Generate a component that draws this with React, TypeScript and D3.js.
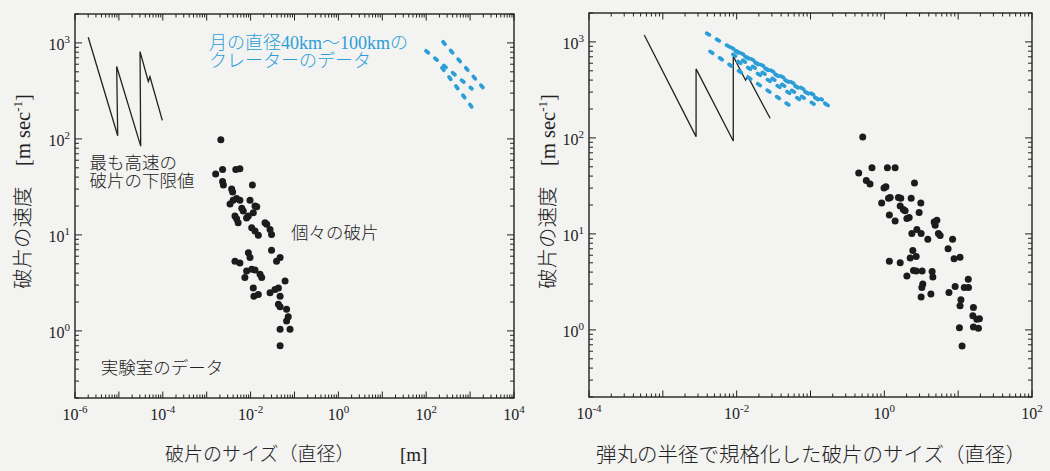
import React from "react";
import * as d3 from "d3";

// axes
const yDomain: [number, number] = [0.2, 2000];
const leftXDomain: [number, number] = [1e-6, 1e4];
const rightXDomain: [number, number] = [1e-4, 1e2];
const leftXTickExps = [-6, -4, -2, 0, 2, 4];
const rightXTickExps = [-4, -2, 0, 2];
const yTickExps = [0, 1, 2, 3];

// individual fragments, [size, velocity]
const leftFragments = [
  [2.1e-3, 98], [1.6e-3, 43], [2.3e-3, 48], [4.6e-3, 48], [5.7e-3, 49], [2.3e-3, 36],
  [2.4e-3, 33], [3.7e-3, 30], [3.9e-3, 28], [1.1e-2, 33], [4.0e-3, 23], [4.8e-3, 24],
  [5.7e-3, 23], [3.4e-3, 21], [9.7e-3, 23], [6.3e-3, 19], [6.8e-3, 17.7], [1.26e-2, 20],
  [1.38e-2, 19.6], [4.4e-3, 15.7], [4.8e-3, 14.7], [8.1e-3, 15], [8.9e-3, 15.7], [1.15e-2, 17],
  [5.2e-3, 13.4], [1.06e-2, 11.9], [1.26e-2, 11], [1.5e-2, 9.9], [2.13e-2, 13.4], [2.33e-2, 12.9],
  [2.77e-2, 11.4], [3.0e-2, 10.1], [8.9e-3, 6.5], [9.7e-3, 5.8], [4.4e-3, 5.3], [5.7e-3, 5.1],
  [3.0e-2, 6.9], [4.7e-2, 5.8], [3.9e-2, 5.3], [8.1e-3, 4.2], [1.06e-2, 4.4], [1.26e-2, 4.3],
  [7.4e-3, 3.6], [1.64e-2, 3.9], [1.79e-2, 3.6], [6.1e-2, 3.3], [1.15e-2, 2.8], [1.19e-2, 2.3],
  [1.5e-2, 2.4], [2.77e-2, 2.5], [3.6e-2, 2.7], [4.3e-2, 2.8], [4.7e-2, 2.3], [4.3e-2, 1.9],
  [4.7e-2, 1.78], [6.6e-2, 1.68], [7.2e-2, 1.4], [6.6e-2, 1.27], [7.9e-2, 1.04], [4.7e-2, 1.04],
  [4.7e-2, 0.7],
];

const rightFragments = [
  [0.51, 102], [0.45, 43], [0.68, 49], [0.57, 36], [0.64, 33], [1.1, 49], [1.4, 49],
  [0.99, 30], [1.05, 31], [2.56, 34], [0.92, 21], [1.14, 23.5], [1.2, 24], [1.55, 24],
  [1.67, 23.5], [2.31, 23.5], [3.12, 21], [1.17, 15.7], [1.4, 13.6], [1.64, 19.5], [1.81, 18],
  [1.91, 17.4], [2.02, 14.5], [2.17, 14.8], [2.96, 16.7], [2.36, 10.1], [2.76, 11.1], [3.15, 10.1],
  [3.88, 8.8], [4.73, 13.3], [5.15, 13.9], [4.88, 12.3], [5.4, 10.1], [5.7, 9.6], [8.4, 8.8],
  [2.43, 6.7], [2.24, 5.6], [2.7, 5.8], [1.17, 5.2], [1.64, 5.0], [2.48, 4.15], [2.7, 4.1],
  [3.25, 4.1], [2.02, 3.65], [4.44, 4.05], [4.54, 3.55], [7.3, 7.0], [8.8, 5.5], [10.6, 5.7],
  [3.32, 3.0], [3.22, 2.77], [3.15, 2.2], [4.27, 2.36], [7.5, 2.45], [9.1, 2.84], [12.1, 2.77],
  [13.8, 2.77], [13.7, 3.37], [10.9, 2.06], [10.6, 1.78], [10.4, 1.05], [11.3, 0.68], [16.1, 1.71],
  [15.8, 1.4], [17.9, 1.29], [19.4, 1.31], [16.1, 1.07], [18.8, 1.04],
];

// lower limit of the fastest fragments
const leftLimitLine = [
  [2.0e-6, 1146], [9.4e-6, 108], [8.9e-6, 568], [3.14e-5, 84], [3.03e-5, 812],
  [4.68e-5, 396], [5.1e-5, 444], [9.75e-5, 156],
];
const rightLimitLine = [
  [5.6e-4, 1178], [2.82e-3, 103], [2.82e-3, 523], [9.0e-3, 93], [9.0e-3, 710],
  [1.32e-2, 399], [1.41e-2, 440], [2.84e-2, 160],
];

// lunar crater data (40-100 km)
const leftCraterLines = [
  [[242, 1025], [2075, 333]],
  [[99, 826], [1100, 333]],
  [[229, 550], [1130, 211]],
];
const rightCraterLines = [
  [[3.94e-3, 1227], [0.199, 204]],
  [[4.37e-3, 795], [0.058, 206]],
  [[8.4e-3, 875], [0.1435, 250]],
  [[8.9e-3, 740], [0.135, 206]],
  [[1.045e-2, 624], [0.0723, 250]],
  [[9.6e-3, 800], [0.16, 228]],
];

const FONT = "'Liberation Serif', 'Noto Sans CJK JP', serif";
const INK = "#222";
const BLUE = "#2b9ed8";

type Frame = { x0: number; x1: number; y0: number; y1: number };

function logTicks(domain: [number, number]) {
  const out: { v: number; major: boolean }[] = [];
  const e0 = Math.floor(Math.log10(domain[0]));
  const e1 = Math.ceil(Math.log10(domain[1]));
  for (let e = e0; e <= e1; e++) {
    for (let k = 1; k <= 9; k++) {
      const v = k * Math.pow(10, e);
      if (v >= domain[0] * 0.999 && v <= domain[1] * 1.001) out.push({ v, major: k === 1 });
    }
  }
  return out;
}

function Panel({ frame, xDomain, xTickExps, fragments, limitLine, craterLines, yLabelX }: {
  frame: Frame; xDomain: [number, number]; xTickExps: number[]; fragments: number[][];
  limitLine: number[][]; craterLines: number[][][]; yLabelX: number;
}) {
  const x = d3.scaleLog().domain(xDomain).range([frame.x0, frame.x1]);
  const y = d3.scaleLog().domain(yDomain).range([frame.y1, frame.y0]);
  const line = d3.line<number[]>().x((d) => x(d[0])).y((d) => y(d[1]));
  const xt = logTicks(xDomain);
  const yt = logTicks(yDomain);

  return (
    <g>
      <rect x={frame.x0} y={frame.y0} width={frame.x1 - frame.x0} height={frame.y1 - frame.y0}
        fill="none" stroke={INK} strokeWidth={1.4} />
      {xt.map((t, i) => {
        const px = x(t.v);
        const len = t.major ? 6.5 : 3.5;
        return (
          <g key={"x" + i} stroke={INK} strokeWidth={1}>
            <line x1={px} x2={px} y1={frame.y1} y2={frame.y1 - len} />
            <line x1={px} x2={px} y1={frame.y0} y2={frame.y0 + len} />
          </g>
        );
      })}
      {yt.map((t, i) => {
        const py = y(t.v);
        const len = t.major ? 7 : 4;
        return (
          <g key={"y" + i} stroke={INK} strokeWidth={1}>
            <line x1={frame.x0} x2={frame.x0 + len} y1={py} y2={py} />
            <line x1={frame.x1} x2={frame.x1 - len} y1={py} y2={py} />
          </g>
        );
      })}
      {xTickExps.map((e) => (
        <text key={"xl" + e} x={x(Math.pow(10, e))} y={frame.y1 + 22} textAnchor="middle"
          fontFamily={FONT} fontSize={16} fill={INK}>
          10<tspan dy={-7} fontSize={11}>{e}</tspan>
        </text>
      ))}
      {yTickExps.map((e) => (
        <text key={"yl" + e} x={frame.x0 - 5} y={y(Math.pow(10, e)) + 7} textAnchor="end"
          fontFamily={FONT} fontSize={16} fill={INK}>
          10<tspan dy={-7} fontSize={11}>{e}</tspan>
        </text>
      ))}
      <text transform={`translate(${yLabelX},191.5) rotate(-90)`} textAnchor="middle"
        fontFamily={FONT} fontSize={20.5} fontWeight={300} fill={INK}>
        破片の速度{"\u3000"}[m sec<tspan dy={-8} fontSize={13}>-1</tspan><tspan dy={8}>]</tspan>
      </text>
      <path d={line(limitLine) || ""} fill="none" stroke={INK} strokeWidth={1.3} strokeLinejoin="miter" />
      {craterLines.map((l, i) => (
        <path key={"c" + i} d={line(l) || ""} fill="none" stroke={BLUE} strokeWidth={3.8}
          strokeDasharray="3 8.5" strokeLinecap="round" />
      ))}
      {fragments.map((d, i) => (
        <circle key={"f" + i} cx={x(d[0])} cy={y(d[1])} r={3.5} fill="#1c1c1c" />
      ))}
    </g>
  );
}

export default function App() {
  const left: Frame = { x0: 75, x1: 514, y0: 14, y1: 398 };
  const right: Frame = { x0: 589, x1: 1032, y0: 13, y1: 397 };
  return (
    <>
      <style>{"body{margin:0}"}</style>
      <svg width={1050} height={471} style={{ display: "block" }}>
        <rect width={1050} height={471} fill="#f3f3f1" />
        <Panel frame={left} xDomain={leftXDomain} xTickExps={leftXTickExps}
          fragments={leftFragments} limitLine={leftLimitLine} craterLines={leftCraterLines} yLabelX={30} />
        <Panel frame={right} xDomain={rightXDomain} xTickExps={rightXTickExps}
          fragments={rightFragments} limitLine={rightLimitLine} craterLines={rightCraterLines} yLabelX={555} />

        <g fontFamily={FONT} fill={INK} fontWeight={300}>
          <text x={165} y={461} fontSize={19}>破片のサイズ（直径）</text>
          <text x={400} y={461} fontSize={19} fontWeight={400}>[m]</text>
          <text x={596} y={462} fontSize={20.5}>弾丸の半径で規格化した破片のサイズ（直径）</text>
          <g fontSize={17.5}>
            <text x={89.5} y={169}>最も高速の</text>
            <text x={89.5} y={187}>破片の下限値</text>
            <text x={291} y={239}>個々の破片</text>
            <text x={100.7} y={374}>実験室のデータ</text>
          </g>
        </g>
        <g fontFamily={FONT} fill={BLUE} fontSize={18} fontWeight={300}>
          <text x={209} y={49}>月の直径40km～100kmの</text>
          <text x={209} y={67}>クレーターのデータ</text>
        </g>
      </svg>
    </>
  );
}
